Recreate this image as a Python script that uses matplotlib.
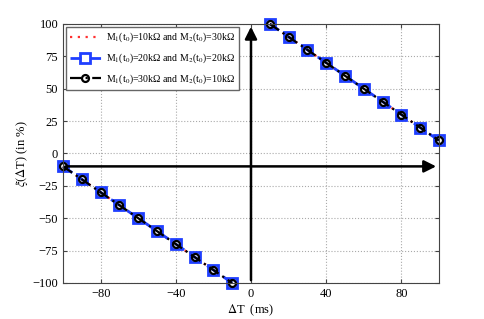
import numpy as np
import matplotlib
matplotlib.use('Agg')
import matplotlib.pyplot as plt

plt.rcParams['font.family'] = ['Liberation Serif', 'DejaVu Serif']
plt.rcParams['mathtext.fontset'] = 'stix'
plt.rcParams['axes.unicode_minus'] = True

# left branch (dT < 0) and right branch (dT > 0)
dt_neg = [-100, -90, -80, -70, -60, -50, -40, -30, -20, -10]
xi_neg = [-10, -20, -30, -40, -50, -60, -70, -80, -90, -100]
dt_pos = [10, 20, 30, 40, 50, 60, 70, 80, 90, 100]
xi_pos = [100, 90, 80, 70, 60, 50, 40, 30, 20, 10]

labels = ['M$_1$(t$_0$)=10kΩ and M$_2$(t$_0$)=30kΩ',
          'M$_1$(t$_0$)=20kΩ and M$_2$(t$_0$)=20kΩ',
          'M$_1$(t$_0$)=30kΩ and M$_2$(t$_0$)=10kΩ']
xticks = [-80, -40, 0, 40, 80]
yticks = [-100, -75, -50, -25, 0, 25, 50, 75, 100]

fig = plt.figure(figsize=(4.85, 3.19), dpi=100)
ax = fig.add_axes([0.13, 0.113, 0.775, 0.812])

styles = [
    dict(color='#ff3030', ls=(0, (1, 2.5)), lw=1.6),
    dict(color='#1f3fff', ls=(0, (4, 3)), lw=2, marker='s', ms=7.5, mfc='none', mec='#1f3fff', mew=2),
    dict(color='black', ls=(0, (5, 2, 1, 2)), lw=1.6, marker='o', ms=5, mfc='none', mec='black', mew=1.6),
]
handles = []
for st, lab in zip(styles, labels):
    h, = ax.plot(dt_neg, xi_neg, label=lab, clip_on=False, **st)
    ax.plot(dt_pos, xi_pos, clip_on=False, **st)
    handles.append(h)

# coordinate arrows
ax.annotate('', xy=(100, -10), xytext=(-100, -10),
            arrowprops=dict(arrowstyle='-|>', color='black', lw=1.8, mutation_scale=18))
ax.annotate('', xy=(0, 100), xytext=(0, -100),
            arrowprops=dict(arrowstyle='-|>', color='black', lw=1.8, mutation_scale=18))

ax.set_xlim(-100, 100)
ax.set_ylim(-100, 100)
ax.set_xticks(xticks)
ax.set_yticks(yticks)
ax.grid(True, ls=':', color='#aaaaaa', lw=0.8)
ax.tick_params(direction='in', top=True, right=True, labelsize=9, length=3, color='#444444')
for sp in ax.spines.values():
    sp.set_color('#444444')

ax.set_xlabel(r'$\Delta$T  (ms)', fontsize=9, labelpad=2)
ax.set_ylabel(r'$\xi(\Delta$T) (in %)', fontsize=9, labelpad=2)

leg = ax.legend(handles=handles, loc='upper left', fontsize=7.1, handlelength=3.1,
                handletextpad=0.6, fancybox=False, framealpha=1, edgecolor='#666666',
                borderaxespad=0.3, labelspacing=0.75)

fig.savefig('out.png', dpi=100)
